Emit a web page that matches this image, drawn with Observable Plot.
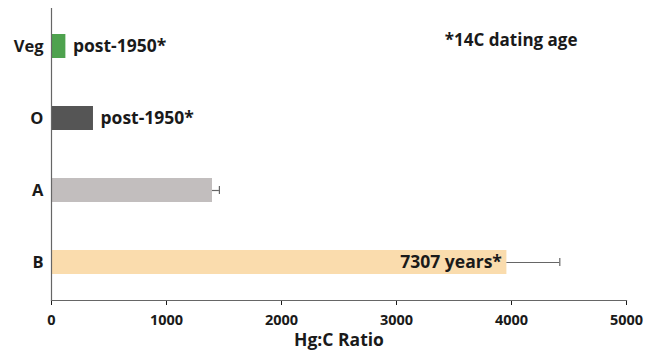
<!DOCTYPE html>
<html><head><meta charset="utf-8">
<script src="https://cdn.jsdelivr.net/npm/d3@7"></script>
<script src="https://cdn.jsdelivr.net/npm/@observablehq/plot@0.6"></script>
<style>
body{margin:0;background:#fff;}
svg{font-family:"Open Sans",Lato,sans-serif;}
</style>
</head><body><div id="chart"></div>
<script>
const categories = ["Veg", "O", "A", "B"];
const values = [125, 365, 1400, 3960];
const errors = [0, 0, 60, 460];
const barColors = ["#4ea24e", "#555555", "#c2bebe", "#fadcad"];
const outsideLabels = ["post-1950*", "post-1950*", "", ""];
const insideLabels = ["", "", "", "7307 years*"];
const xTicks = [0, 1000, 2000, 3000, 4000, 5000];
const note = "*14C dating age";

const data = categories.map((c, i) => ({cat: c, v: values[i], e: errors[i], color: barColors[i], out: outsideLabels[i], ins: insideLabels[i]}));
const FONT = "'Open Sans', Lato, sans-serif";

const chart = Plot.plot({
  width: 648, height: 353,
  marginLeft: 51, marginRight: 22, marginTop: 8, marginBottom: 53,
  style: {fontFamily: FONT, fontSize: "14.5px", fontWeight: "bold", color: "#1a1a1a", background: "#fff"},
  x: {domain: [0, 5000], ticks: xTicks, label: null},
  y: {domain: categories, paddingInner: 0.667, paddingOuter: 0.361, label: null},
  marks: [
    Plot.barX(data, {y: "cat", x: "v", fill: "color"}),
    Plot.ruleY(data.filter(d => d.e > 0), {y: "cat", x1: "v", x2: d => d.v + d.e, stroke: "#666", strokeWidth: 1.2}),
    Plot.tickX(data.filter(d => d.e > 0), {y: "cat", x: d => d.v + d.e, stroke: "#666", strokeWidth: 1.2, insetTop: 8, insetBottom: 8}),
    Plot.text(data.filter(d => d.out), {y: "cat", x: "v", text: "out", textAnchor: "start", dx: 7, fontSize: 17.5, fontWeight: "bold", fill: "#1a1a1a"}),
    Plot.text(data.filter(d => d.ins), {y: "cat", x: "v", text: "ins", textAnchor: "end", dx: -5, fontSize: 17.5, fontWeight: "bold", fill: "#1a1a1a"}),
    Plot.text([note], {frameAnchor: "top-right", text: d => d, textAnchor: "end", dx: -49, dy: 25, fontSize: 17, fontWeight: "bold", fill: "#1a1a1a"}),
    Plot.axisY({tickSize: 0, tickPadding: 8, fontSize: 16.5, fontWeight: "bold", label: null}),
    Plot.axisX({ticks: xTicks, tickFormat: d => String(d), tickSize: 5, tickPadding: 9, fontSize: 14.5, fontWeight: "bold", label: null}),
    Plot.text(["Hg:C Ratio"], {frameAnchor: "bottom", lineAnchor: "middle", text: d => d, dy: 40, fontSize: 17.5, fontWeight: "bold", fill: "#1a1a1a"}),
    Plot.frame({anchor: "left", stroke: "#666", strokeWidth: 1.2}),
    Plot.frame({anchor: "bottom", stroke: "#666", strokeWidth: 1.2})
  ]
});
document.getElementById("chart").appendChild(chart);
</script></body></html>
